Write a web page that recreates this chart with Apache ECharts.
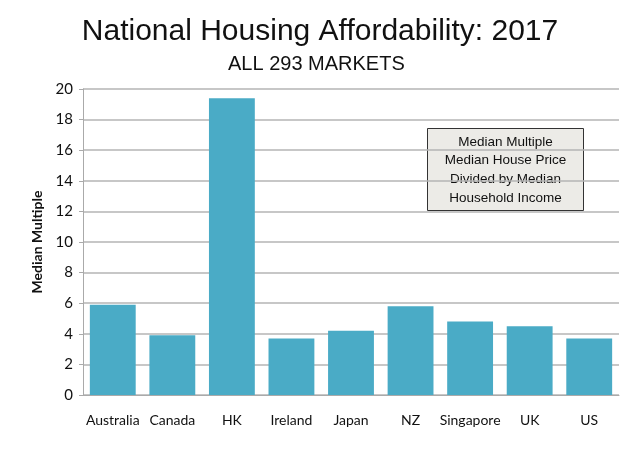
<!DOCTYPE html>
<html><head><meta charset="utf-8">
<script src="https://cdn.jsdelivr.net/npm/echarts@6/dist/echarts.min.js"></script>
<style>html,body{margin:0;padding:0;background:#fff}#c{width:640px;height:449px}</style>
</head><body><div id="c"></div>
<script>
var categories = ['Australia','Canada','HK','Ireland','Japan','NZ','Singapore','UK','US'];
var medianMultiple = [5.9, 3.9, 19.4, 3.7, 4.2, 5.8, 4.8, 4.5, 3.7];
var yTicks = {min:0, max:20, interval:2};
var titleText = 'National Housing Affordability: 2017';
var subtitleText = 'ALL 293 MARKETS';
var yAxisName = 'Median Multiple';
var noteLines = ['Median Multiple','Median House Price','Divided by Median','Household Income'];

var chart = echarts.init(document.getElementById('c'), null, {renderer:'canvas'});
chart.setOption({
  animation:false,
  backgroundColor:'#fff',
  title:[
    {text:titleText, left:'center', top:12, textStyle:{fontFamily:'Liberation Sans', fontSize:30, fontWeight:'normal', color:'#111'}},
    {text:subtitleText, left:223, top:49, textStyle:{fontFamily:'Liberation Sans', fontSize:20, fontWeight:'normal', color:'#111'}}
  ],
  grid:{left:83, right:21, top:89, bottom:54},
  xAxis:{type:'category', data:categories,
    axisLine:{lineStyle:{color:'#aaa', width:1}}, axisTick:{show:false},
    axisLabel:{fontFamily:'Lato', fontSize:14, color:'#111', margin:18, interval:0}},
  yAxis:{type:'value', min:yTicks.min, max:yTicks.max, interval:yTicks.interval,
    name:yAxisName, nameLocation:'middle', nameGap:37, nameRotate:90,
    nameTextStyle:{fontFamily:'Lato', fontSize:14, fontWeight:'bold', color:'#111'},
    axisLine:{show:true, lineStyle:{color:'#aaa'}}, axisTick:{show:true, length:4, inside:false, lineStyle:{color:'#aaa'}},
    axisLabel:{fontFamily:'Lato', fontSize:15, color:'#111', margin:10},
    splitLine:{lineStyle:{color:'#b4b4b4', width:1.5}}},
  series:[{type:'bar', data:medianMultiple, barCategoryGap:'23%',
    itemStyle:{color:'#4aabc6'}}],
  graphic:[{type:'group', left:427, top:128, children:[
    {type:'rect', shape:{x:0,y:0,width:156,height:82}, style:{fill:'#ecebe7', stroke:'#333', lineWidth:1}},
    {type:'text', style:{x:78, y:4, text:noteLines.join('\n'), textAlign:'center', fill:'#111', font:'13.5px "Liberation Sans"', lineHeight:18.7}}
  ]}]
});
</script></body></html>
